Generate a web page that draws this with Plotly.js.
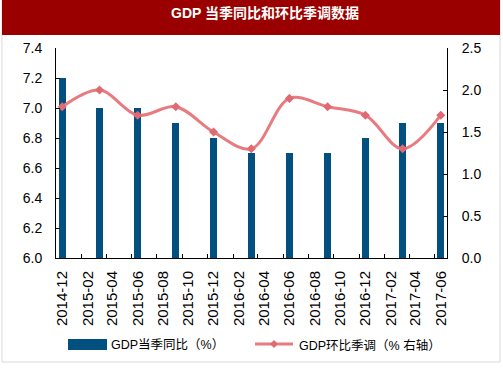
<!DOCTYPE html>
<html>
<head>
<meta charset="utf-8">
<script src="https://cdn.plot.ly/plotly-3.0.1.min.js"></script>
<style>html,body{margin:0;padding:0;background:#fff;}#chart{width:503px;height:378px;}</style>
</head>
<body>
<div id="chart"></div>
<script>
// Quarterly observations (month of quarter end)
const quarters = ['2014-12','2015-03','2015-06','2015-09','2015-12','2016-03','2016-06','2016-09','2016-12','2017-03','2017-06'];
const yoyGrowth = [7.2, 7.0, 7.0, 6.9, 6.8, 6.7, 6.7, 6.7, 6.8, 6.9, 6.9];
const qoqGrowth = [1.8, 2.0, 1.7, 1.8, 1.5, 1.3, 1.9, 1.8, 1.7, 1.3, 1.7];
const tickLabels = ['2014-12','2015-02','2015-04','2015-06','2015-08','2015-10','2015-12','2016-02','2016-04','2016-06','2016-08','2016-10','2016-12','2017-02','2017-04','2017-06'];
const seriesNames = ['GDP当季同比（%）', 'GDP环比季调（% 右轴）'];

const FONT = 'Liberation Sans, Arial, Noto Sans CJK SC, sans-serif';
const BAR_COLOR = '#01507F';
const LINE_COLOR = '#E87B7F';

const mid = m => m + '-16';
const W = 503, H = 378, L = 56, R = 56, T = 48, B = 120;
const pw = W - L - R, ph = H - T - B;
const px = x => (x - L) / pw;
const py = y => (H - B - y) / ph;

const traces = [
  {
    type: 'bar', x: quarters.map(mid), y: yoyGrowth, name: seriesNames[0],
    marker: {color: BAR_COLOR}, width: 17 * 86400000, showlegend: false,
    xaxis: 'x', yaxis: 'y', hoverinfo: 'x+y'
  },
  {
    type: 'scatter', mode: 'lines+markers', x: quarters.map(mid), y: qoqGrowth, name: seriesNames[1],
    line: {color: LINE_COLOR, width: 3, shape: 'spline', smoothing: 1},
    marker: {symbol: 'diamond', size: 7, color: '#E06A72'},
    showlegend: false, xaxis: 'x', yaxis: 'y2'
  }
];

const layout = {
  width: W, height: H,
  margin: {l: L, r: R, t: T, b: B, pad: 0},
  paper_bgcolor: '#fff', plot_bgcolor: '#fff',
  font: {family: FONT, color: '#000', size: 14},
  showlegend: false,
  bargap: 0,
  xaxis: {
    type: 'date',
    range: ['2014-12-01', '2017-07-01'],
    tickmode: 'array',
    tickvals: tickLabels.map(mid),
    ticktext: tickLabels,
    tickangle: -90,
    ticks: '',
    showgrid: false, zeroline: false,
    showline: true, linecolor: '#000', linewidth: 1,
    tickfont: {size: 15, family: FONT, color: '#000'},
    ticklabelstandoff: 6,
    minor: {
      tickmode: 'array',
      tickvals: tickLabels.slice(1).map(m => m + '-01'),
      ticks: 'inside', ticklen: 4, tickcolor: '#000', tickwidth: 1, showgrid: false
    }
  },
  yaxis: {
    range: [6.0, 7.4], dtick: 0.2, tick0: 6.0, tickformat: '.1f',
    ticks: 'inside', ticklen: 4, tickcolor: '#000',
    showgrid: false, zeroline: false,
    showline: true, linecolor: '#000', linewidth: 1,
    tickfont: {size: 14, family: FONT, color: '#000'},
    ticklabelstandoff: 10
  },
  yaxis2: {
    overlaying: 'y', side: 'right',
    range: [0, 2.5], dtick: 0.5, tick0: 0, tickformat: '.1f',
    ticks: 'inside', ticklen: 4, tickcolor: '#000',
    showgrid: false, zeroline: false,
    showline: true, linecolor: '#000', linewidth: 1,
    tickfont: {size: 14, family: FONT, color: '#000'},
    ticklabelstandoff: 11
  },
  shapes: [
    {type: 'rect', xref: 'paper', yref: 'paper', x0: px(2), x1: px(500), y0: py(362), y1: py(0),
     line: {color: '#D9D9D9', width: 1}, fillcolor: 'rgba(0,0,0,0)', layer: 'below'},
    {type: 'rect', xref: 'paper', yref: 'paper', x0: px(2), x1: px(500), y0: py(35), y1: py(0),
     line: {width: 0}, fillcolor: '#9B0000', layer: 'below'},
    {type: 'rect', xref: 'paper', yref: 'paper', x0: px(68), x1: px(107), y0: py(350), y1: py(339),
     line: {width: 0}, fillcolor: BAR_COLOR},
    {type: 'line', xref: 'paper', yref: 'paper', x0: px(255), x1: px(293), y0: py(344), y1: py(344),
     line: {color: LINE_COLOR, width: 3}},
    {type: 'path', xref: 'paper', yref: 'paper', xsizemode: 'pixel', ysizemode: 'pixel',
     xanchor: px(274), yanchor: py(344), path: 'M0,4 L4,0 L0,-4 L-4,0 Z',
     line: {width: 0}, fillcolor: '#E06A72'}
  ],
  annotations: [
    {text: 'GDP 当季同比和环比季调数据', xref: 'paper', yref: 'paper', x: px(265), y: py(13),
     xanchor: 'center', yanchor: 'middle', showarrow: false,
     font: {family: FONT, size: 14, color: '#fff', weight: 'bold'}},
    {text: seriesNames[0], xref: 'paper', yref: 'paper', x: px(109), y: py(345),
     xanchor: 'left', yanchor: 'middle', showarrow: false,
     font: {family: FONT, size: 12.5, color: '#000'}},
    {text: seriesNames[1], xref: 'paper', yref: 'paper', x: px(297), y: py(345),
     xanchor: 'left', yanchor: 'middle', showarrow: false,
     font: {family: FONT, size: 12.5, color: '#000'}}
  ]
};

Plotly.newPlot('chart', traces, layout, {displayModeBar: false, staticPlot: true});
</script>
</body>
</html>
